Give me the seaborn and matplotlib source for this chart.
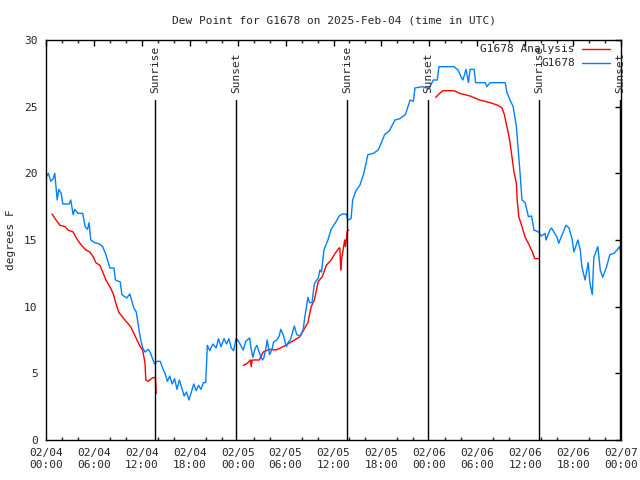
import pandas as pd
import numpy as np
from matplotlib import pyplot as plt
from matplotlib.lines import Line2D
import seaborn as sns

# hours since 02/04 00:00 UTC
obs_hours = [0.0, 0.3, 0.6, 0.9, 1.1, 1.4, 1.6, 1.9, 2.1, 2.9, 3.1, 3.4, 3.6, 4.0, 4.6, 4.9,
             5.2, 5.4, 5.6, 6.1, 6.7, 7.1, 7.5, 8.0, 8.5, 8.7, 9.3, 9.5, 10.1, 10.5, 11.0, 11.3,
             11.8, 12.1, 12.4, 12.8, 13.1, 13.4, 13.6, 13.9, 14.3, 14.6, 14.9, 15.2, 15.5, 15.8,
             16.1, 16.4, 16.7, 17.0, 17.3, 17.6, 17.9, 18.2, 18.5, 18.8, 19.1, 19.4, 19.7, 20.0,
             20.2, 20.5, 20.9, 21.3, 21.6, 21.9, 22.3, 22.6, 22.9, 23.2, 23.5, 23.8, 24.0, 24.3,
             24.7, 25.0, 25.5, 25.7, 25.9, 26.2, 26.4, 26.8, 27.1, 27.3, 27.6, 27.7, 28.0, 28.3,
             28.5, 28.9, 29.2, 29.4, 29.7, 30.1, 30.4, 30.6, 31.1, 31.4, 31.8, 32.2, 32.4, 32.8,
             33.0, 33.3, 33.6, 33.9, 34.1, 34.3, 34.5, 34.8, 35.3, 35.7, 36.3, 36.7, 37.1, 37.6,
             37.8, 38.2, 38.4, 38.8, 39.3, 39.8, 40.3, 41.0, 41.6, 42.0, 42.4, 43.0, 43.7, 44.3,
             45.0, 45.6, 46.0, 46.2, 47.1, 47.7, 48.0, 48.5, 49.0, 49.2, 51.1, 51.6, 52.0, 52.2,
             52.6, 52.9, 53.1, 53.6, 53.8, 55.0, 55.2, 55.6, 57.5, 57.7, 58.1, 58.5, 58.9, 59.1,
             59.3, 59.6, 60.0, 60.4, 60.8, 61.1, 61.7, 62.0, 62.5, 62.6, 63.1, 63.3, 64.0, 64.2,
             64.7, 65.1, 65.5, 65.9, 66.1, 66.6, 66.9, 67.1, 67.5, 67.9, 68.1, 68.4, 68.6, 69.1,
             69.4, 69.7, 70.2, 70.6, 71.1, 71.5, 71.8, 72.0]
obs_dewpt = [19.7, 20.0, 19.4, 19.6, 20.0, 18.0, 18.8, 18.5, 17.7, 17.7, 18.0, 16.9, 17.3, 17.0, 17.0, 16.0,
             15.8, 16.3, 15.0, 14.8, 14.7, 14.5, 13.9, 12.9, 12.9, 12.0, 11.85, 10.9, 10.65, 10.95, 9.9, 9.6,
             7.7, 6.9, 6.6, 6.8, 6.5, 6.0, 5.7, 5.9, 5.9, 5.4, 5.0, 4.4, 4.8, 4.2,
             4.6, 3.8, 4.5, 3.9, 3.3, 3.6, 3.0, 3.6, 4.2, 3.7, 4.1, 3.8, 4.3, 4.3,
             7.1, 6.7, 7.2, 6.9, 7.6, 7.0, 7.6, 7.2, 7.6, 6.9, 6.7, 7.6, 7.5, 7.2,
             6.75, 7.4, 7.65, 6.8, 6.2, 6.9, 7.1, 6.4, 6.0, 6.2, 7.1, 7.5, 6.4, 6.8,
             7.35, 7.5, 7.8, 8.3, 7.9, 7.0, 7.4, 7.5, 8.55, 7.9, 7.8, 8.25, 9.2, 10.7,
             10.3, 10.3, 11.7, 12.0, 12.15, 12.75, 12.6, 14.25, 15.0, 15.8, 16.35, 16.8, 16.95, 16.95,
             16.5, 16.6, 18.0, 18.7, 19.1, 20.0, 21.4, 21.5, 21.75, 22.3, 22.9, 23.2, 24.0, 24.1,
             24.4, 25.5, 25.4, 26.4, 26.5, 26.4, 26.4, 27.0, 27.0, 28.0, 28.0, 27.75, 27.2, 27.0,
             27.8, 26.8, 27.8, 27.8, 26.8, 26.8, 26.5, 26.8, 26.8, 26.1, 25.5, 25.0, 23.5, 22.0,
             20.5, 18.0, 17.8, 16.75, 16.8, 15.75, 15.6, 15.3, 15.5, 15.0, 15.75, 15.9, 15.2, 14.75,
             15.5, 16.1, 15.9, 15.0, 14.1, 15.0, 14.25, 13.0, 12.0, 13.3, 11.8, 10.9, 13.7, 14.5,
             12.75, 12.2, 13.0, 13.9, 14.0, 14.25, 14.5, 14.0]

# analysis run, three separate pieces
ana_seg = [1] * 34 + [2] * 32 + [3] * 26
ana_hours = [0.75, 1.25, 1.75, 2.4, 2.75, 3.4, 3.75, 4.25, 4.6, 5.0, 5.5, 5.9, 6.25, 6.75, 7.1, 7.5,
             8.0, 8.4, 8.75, 9.1, 9.6, 10.1, 10.6, 11.0, 11.4, 11.8, 12.1, 12.4, 12.5, 12.8, 13.3,
             13.65, 13.7, 13.8,
             24.7, 25.2, 25.6, 25.7, 25.8, 25.9, 26.7, 27.2, 28.0, 28.8, 29.7, 30.7, 31.8, 32.4,
             32.8, 33.2, 33.6, 34.1, 34.6, 35.1, 35.7, 36.2, 36.7, 36.8, 36.9, 37.0, 37.4, 37.5,
             37.6, 37.7, 37.8, 37.9,
             48.8, 49.3, 49.7, 51.1, 51.8, 53.1, 54.3, 55.6, 56.6, 57.1, 57.4, 57.6, 57.9, 58.1,
             58.4, 58.6, 58.9, 59.0, 59.2, 59.6, 60.0, 60.4, 60.9, 61.2, 61.6, 61.7]
ana_dewpt = [16.95, 16.5, 16.1, 16.0, 15.75, 15.6, 15.2, 14.75, 14.5, 14.25, 14.1, 13.75, 13.3, 13.1, 12.6, 12.0,
             11.5, 11.0, 10.25, 9.6, 9.2, 8.85, 8.5, 8.0, 7.5, 7.0, 6.75, 5.75, 4.5, 4.4, 4.65,
             4.7, 4.7, 3.5,
             5.6, 5.75, 6.0, 5.5, 6.0, 6.0, 6.0, 6.6, 6.8, 6.75, 7.0, 7.35, 7.75, 8.4,
             8.8, 10.0, 10.5, 11.9, 12.25, 13.1, 13.5, 14.0, 14.4, 14.4, 12.75, 13.5, 15.0, 14.5,
             15.0, 15.6, 15.75, 15.75,
             25.7, 26.0, 26.2, 26.2, 26.0, 25.8, 25.5, 25.3, 25.1, 24.9, 24.4, 23.8, 23.0, 22.3,
             21.0, 20.1, 19.25, 18.0, 16.75, 16.0, 15.2, 14.75, 14.1, 13.6, 13.6, 13.6]

event_hours = [13.65, 23.79, 37.69, 47.83, 61.73, 71.87]
event_names = ['Sunrise', 'Sunset', 'Sunrise', 'Sunset', 'Sunrise', 'Sunset']

tick_hours = list(range(0, 73, 6))
tick_labels = ['02/04\n00:00', '02/04\n06:00', '02/04\n12:00', '02/04\n18:00',
               '02/05\n00:00', '02/05\n06:00', '02/05\n12:00', '02/05\n18:00',
               '02/06\n00:00', '02/06\n06:00', '02/06\n12:00', '02/06\n18:00',
               '02/07\n00:00']

obs_df = pd.DataFrame({'hour': obs_hours, 'dewpt': obs_dewpt})
ana_df = pd.DataFrame({'hour': ana_hours, 'dewpt': ana_dewpt, 'seg': ana_seg})

sns.set_theme(style='white')
plt.rcParams['font.family'] = ['DejaVu Sans Mono']
plt.rcParams['font.size'] = 8

fig, ax = plt.subplots(figsize=(6.4, 4.8), dpi=100)
fig.subplots_adjust(left=46/640, right=621/640, top=1-40/480, bottom=1-440/480)

sns.lineplot(data=ana_df, x='hour', y='dewpt', units='seg', estimator=None,
             color='#ff0000', linewidth=1, ax=ax, sort=False)
sns.lineplot(data=obs_df, x='hour', y='dewpt', color='#0080ff', linewidth=1, ax=ax, sort=False)

# sunrise / sunset markers
for h, name in zip(event_hours, event_names):
    ax.plot([h, h], [0, 25.5], color='black', linewidth=1)
    ax.text(h, 26.0, name, rotation=90, ha='center', va='bottom', fontsize=8)

ax.set_xlim(0, 72)
ax.set_ylim(0, 30)
ax.set_xticks(tick_hours)
ax.set_xticklabels(tick_labels)
ax.set_xticks(range(0, 73, 2), minor=True)
ax.set_yticks(range(0, 31, 5))
ax.tick_params(which='major', direction='in', length=4, width=1, top=True, right=True,
               labelsize=8, color='black', pad=6)
ax.tick_params(which='minor', direction='in', length=2.5, width=1, top=True, bottom=True)
for s in ax.spines.values():
    s.set_color('black')
    s.set_linewidth(1)

ax.set_xlabel('')
ax.set_ylabel('degrees F', fontsize=8, labelpad=6)
ax.set_title('Dew Point for G1678 on 2025-Feb-04 (time in UTC)', fontsize=8, pad=12)

# gnuplot style key, text right justified with sample to the right
ax.text(0.92, 0.9775, 'G1678 Analysis', transform=ax.transAxes, ha='right', va='center', fontsize=8)
ax.add_line(Line2D([0.932, 0.981], [0.9775, 0.9775], transform=ax.transAxes, color='#ff0000', linewidth=1))
ax.text(0.92, 0.9425, 'G1678', transform=ax.transAxes, ha='right', va='center', fontsize=8)
ax.add_line(Line2D([0.932, 0.981], [0.9425, 0.9425], transform=ax.transAxes, color='#0080ff', linewidth=1))

plt.savefig('out.png', dpi=100)
